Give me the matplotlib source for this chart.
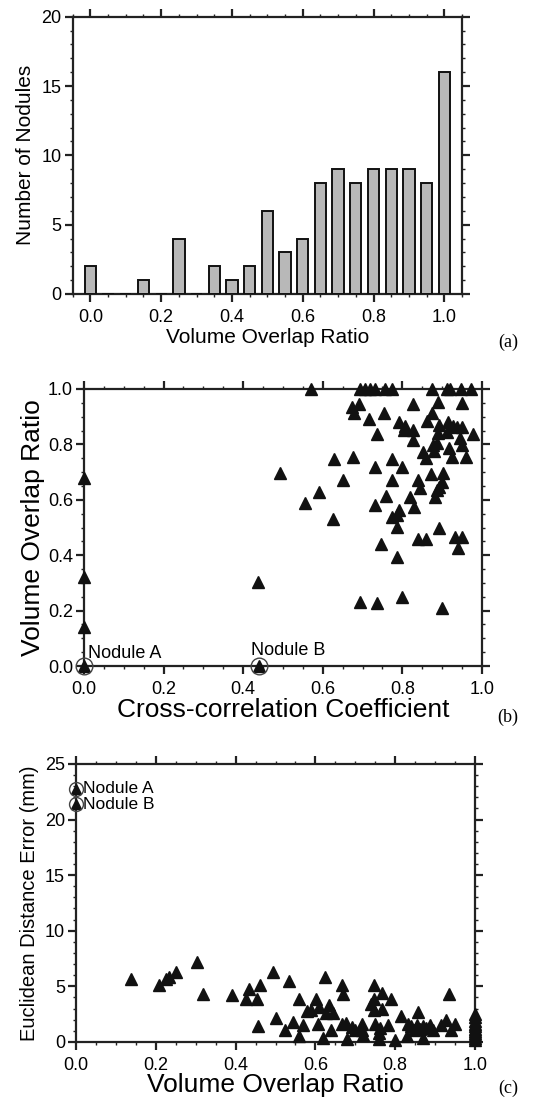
import matplotlib
matplotlib.use("Agg")
import matplotlib.pyplot as plt
from matplotlib.ticker import MultipleLocator

plt.rcParams["font.family"] = ["Liberation Sans", "DejaVu Sans"]

# (a) histogram of volume overlap ratio
hist_centers = [0.0, 0.05, 0.10, 0.15, 0.20, 0.25, 0.30, 0.35, 0.40, 0.45, 0.50,
                0.55, 0.60, 0.65, 0.70, 0.75, 0.80, 0.85, 0.90, 0.95, 1.0]
hist_counts = [2, 0, 0, 1, 0, 4, 0, 2, 1, 2, 6,
               3, 4, 8, 9, 8, 9, 9, 9, 8, 16]

# (b) cross-correlation coefficient vs volume overlap ratio
b_x = [0.57, 0.693, 0.706, 0.719, 0.731, 0.756, 0.773, 0.875, 0.911, 0.92, 0.946, 0.972,
       0.673, 0.692, 0.678, 0.717, 0.755, 0.827, 0.889, 0.949, 0.874, 0.863,
       0.792, 0.807, 0.805, 0.826, 0.735, 0.826, 0.893, 0.915, 0.928, 0.938,
       0.951, 0.911, 0.889, 0.978, 0.945, 0.949, 0.886, 0.878, 0.851, 0.880,
       0.859, 0.917, 0.925, 0.960, 0.628, 0.677, 0.773, 0.731, 0.798, 0.652,
       0.773, 0.838, 0.872, 0.901, 0.899, 0.893, 0.886, 0.843, 0.760, 0.819,
       0.882, 0.591, 0.555, 0.730, 0.830, 0.791, 0.775, 0.626,
       0.786, 0.787, 0.893, 0.746, 0.838, 0.859, 0.932, 0.949, 0.939, 0.787,
       0.693, 0.735, 0.798, 0.899, 0.492, 0.438, 0.0, 0.0, 0.0]
b_y = [1.0, 1.0, 1.0, 1.0, 1.0, 1.0, 1.0, 1.0, 1.0, 1.0, 1.0, 1.0,
       0.934, 0.945, 0.914, 0.893, 0.912, 0.945, 0.954, 0.948, 0.914, 0.886,
       0.881, 0.866, 0.852, 0.852, 0.838, 0.816, 0.869, 0.880, 0.866, 0.864,
       0.864, 0.846, 0.840, 0.836, 0.822, 0.798, 0.806, 0.798, 0.774, 0.777,
       0.752, 0.786, 0.756, 0.756, 0.746, 0.753, 0.746, 0.720, 0.717, 0.671,
       0.671, 0.671, 0.693, 0.696, 0.665, 0.647, 0.635, 0.642, 0.615, 0.609,
       0.611, 0.627, 0.590, 0.581, 0.575, 0.563, 0.539, 0.530,
       0.545, 0.503, 0.497, 0.439, 0.458, 0.457, 0.465, 0.465, 0.427, 0.392,
       0.232, 0.226, 0.250, 0.208, 0.696, 0.304, 0.68, 0.32, 0.14]
b_nodules_x = [0.0, 0.44]
b_nodules_y = [0.0, 0.0]
b_nodule_names = ["Nodule A", "Nodule B"]

# (c) volume overlap ratio vs euclidean distance error (mm)
c_x = [0.137, 0.207, 0.226, 0.233, 0.251, 0.302, 0.319, 0.390, 0.425, 0.434,
       0.453, 0.461, 0.494, 0.455, 0.501, 0.523, 0.535, 0.545, 0.560, 0.570,
       0.578, 0.589, 0.602, 0.606, 0.610, 0.624, 0.635, 0.627, 0.643, 0.640,
       0.666, 0.668, 0.666, 0.677, 0.691, 0.700, 0.716, 0.716, 0.748, 0.746,
       0.739, 0.746, 0.768, 0.768, 0.789, 0.750, 0.763, 0.783, 0.815, 0.833,
       0.856, 0.840, 0.848, 0.855, 0.862, 0.870, 0.878, 0.886, 0.895, 0.915,
       0.936, 0.927, 0.950, 0.940,
       0.56, 0.62, 0.68, 0.72, 0.76, 0.80, 0.83, 0.87, 0.76,
       1.0, 1.0, 1.0, 1.0, 1.0, 1.0, 1.0, 1.0, 1.0, 1.0, 1.0]
c_y = [5.64, 5.10, 5.64, 5.80, 6.30, 7.20, 4.29, 4.20, 3.84, 4.74,
       3.84, 5.10, 6.30, 1.47, 2.16, 1.10, 5.46, 1.80, 3.90, 1.50,
       2.79, 2.85, 3.90, 1.60, 3.10, 5.80, 3.30, 2.61, 2.61, 1.05,
       5.16, 4.35, 1.65, 1.71, 1.35, 1.10, 1.65, 1.05, 5.16, 3.90,
       3.39, 2.85, 4.38, 3.00, 3.90, 1.60, 1.25, 1.56, 2.31, 1.65,
       2.70, 1.40, 1.10, 1.50, 1.20, 1.45, 1.30, 1.50, 1.10, 1.55,
       4.29, 1.95, 1.65, 1.05,
       0.5, 0.4, 0.3, 0.6, 0.3, 0.2, 0.5, 0.4, 0.8,
       0.2, 0.4, 0.6, 0.8, 1.0, 1.2, 1.4, 1.6, 1.9, 2.2, 2.5]
c_nodules_x = [0.0, 0.0]
c_nodules_y = [22.7, 21.4]
c_nodule_names = ["Nodule A", "Nodule B"]


def style_axes(ax, xmaj, xmin, ymaj, ymin):
    for s in ax.spines.values():
        s.set_linewidth(1.6)
        s.set_color("#222222")
    ax.xaxis.set_major_locator(MultipleLocator(xmaj))
    ax.xaxis.set_minor_locator(MultipleLocator(xmin))
    ax.yaxis.set_major_locator(MultipleLocator(ymaj))
    ax.yaxis.set_minor_locator(MultipleLocator(ymin))
    ax.tick_params(which="both", direction="out", top=True, right=True,
                   color="#222222")
    ax.tick_params(which="major", length=6, width=1.6, labelsize=13)
    ax.tick_params(which="minor", length=2.5, width=1.0)
    ax.tick_params(axis="x", which="major", pad=5)
    ax.tick_params(axis="y", which="major", pad=2)


fig = plt.figure(figsize=(5.33, 11.06), dpi=100)

# (a)
ax1 = fig.add_axes([0.1364, 0.7342, 0.7304, 0.2507])
ax1.bar(hist_centers, hist_counts, width=0.032, color="#b8b8b8",
        edgecolor="#111111", linewidth=1.4, zorder=3)
ax1.set_xlim(-0.05, 1.05)
ax1.set_ylim(0, 20)
style_axes(ax1, 0.2, 0.05, 5, 1)
ax1.set_xlabel("Volume Overlap Ratio", fontsize=15, labelpad=1)
ax1.set_ylabel("Number of Nodules", fontsize=15, labelpad=5)
ax1.xaxis.set_major_formatter(plt.FormatStrFormatter("%.1f"))
fig.text(0.953, 1 - 342 / 1106, "(a)", family="Liberation Serif",
         fontsize=13, ha="center", va="center")

# (b)
ax2 = fig.add_axes([0.1576, 0.3978, 0.7467, 0.2505])
ax2.plot(b_x, b_y, "^", color="#111111", ms=8, clip_on=False, zorder=3)
ax2.plot(b_nodules_x, b_nodules_y, "^", color="#111111", ms=8,
         clip_on=False, zorder=3)
ax2.plot(b_nodules_x, b_nodules_y, "o", mfc="none", mec="#444444", mew=1.0,
         ms=12, clip_on=False, zorder=4)
b_offsets = [(3, 3), (-6, 5)]
for nx, ny, name, off in zip(b_nodules_x, b_nodules_y, b_nodule_names, b_offsets):
    ax2.annotate(name, (nx, ny), xytext=off, textcoords="offset points",
                 fontsize=13, ha="left", va="bottom")
ax2.set_xlim(0, 1)
ax2.set_ylim(0, 1)
style_axes(ax2, 0.2, 0.05, 0.2, 0.05)
ax2.xaxis.set_major_formatter(plt.FormatStrFormatter("%.1f"))
ax2.yaxis.set_major_formatter(plt.FormatStrFormatter("%.1f"))
ax2.set_xlabel("Cross-correlation Coefficient", fontsize=19, labelpad=0)
ax2.set_ylabel("Volume Overlap Ratio", fontsize=19, labelpad=2)
fig.text(0.953, 1 - 717 / 1106, "(b)", family="Liberation Serif",
         fontsize=13, ha="center", va="center")

# (c)
ax3 = fig.add_axes([0.1426, 0.0579, 0.7486, 0.2514])
ax3.plot(c_x, c_y, "^", color="#111111", ms=8, clip_on=False, zorder=3)
ax3.plot(c_nodules_x, c_nodules_y, "^", color="#111111", ms=7,
         clip_on=False, zorder=3)
ax3.plot(c_nodules_x, c_nodules_y, "o", mfc="none", mec="#444444", mew=1.0,
         ms=10, clip_on=False, zorder=4)
# both labels stacked in one text block, one line per nodule
ax3.annotate("\n".join(c_nodule_names),
             (c_nodules_x[0], sum(c_nodules_y) / len(c_nodules_y)),
             xytext=(5, 0), textcoords="offset points", fontsize=12.5,
             linespacing=1.1, ha="left", va="center")
ax3.set_xlim(0, 1)
ax3.set_ylim(0, 25)
style_axes(ax3, 0.2, 0.05, 5, 1)
ax3.xaxis.set_major_formatter(plt.FormatStrFormatter("%.1f"))
ax3.set_xlabel("Volume Overlap Ratio", fontsize=19, labelpad=-1)
ax3.set_ylabel("Euclidean Distance Error (mm)", fontsize=14.5, labelpad=4)
fig.text(0.953, 1 - 1088 / 1106, "(c)", family="Liberation Serif",
         fontsize=13, ha="center", va="center")

fig.savefig("out.png", dpi=100)
